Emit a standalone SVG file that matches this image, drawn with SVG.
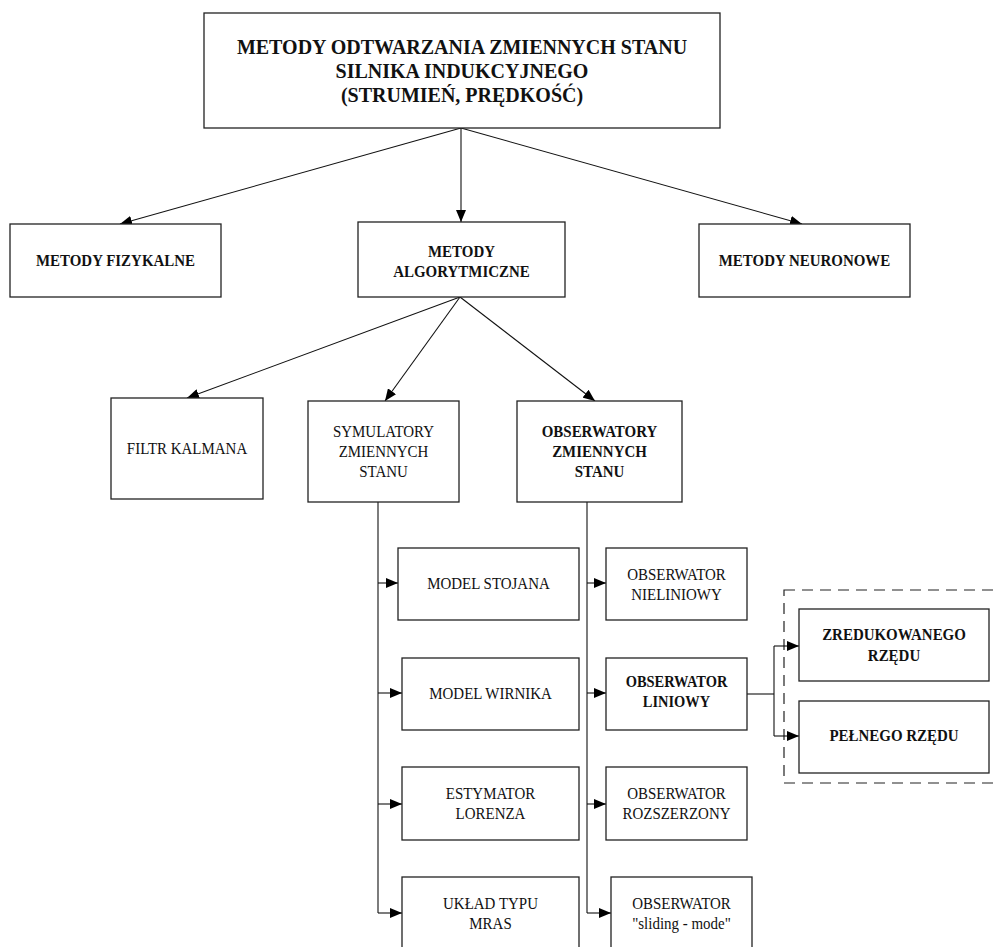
<svg xmlns="http://www.w3.org/2000/svg" width="996" height="947" viewBox="0 0 996 947">
<style>
.box{fill:#fff;stroke:#222;stroke-width:1.3}
.t{font-family:"Liberation Serif","Times New Roman",serif;font-size:17.6px;fill:#111;text-anchor:middle}
.b{font-weight:bold}
.title{font-family:"Liberation Serif","Times New Roman",serif;font-size:20px;font-weight:bold;fill:#111;text-anchor:middle}
.ln{fill:none;stroke:#111;stroke-width:1.1}
.dash{fill:none;stroke:#222;stroke-width:1.2;stroke-dasharray:11 7}
</style>
<defs>
<marker id="ah" viewBox="0 0 12 10" refX="12" refY="5" markerWidth="12" markerHeight="10" markerUnits="userSpaceOnUse" orient="auto">
<path d="M0,0 L12,5 L0,10 z" fill="#000"/>
</marker>
</defs>
<rect width="996" height="947" fill="#fff"/>

<g id="group-dashed">
<rect class="dash" x="784" y="590" width="260" height="193"/>
</g>

<g id="connectors">
<line class="ln" x1="461" y1="128" x2="120" y2="224" marker-end="url(#ah)"/>
<line class="ln" x1="461" y1="128" x2="461" y2="222" marker-end="url(#ah)"/>
<line class="ln" x1="461" y1="128" x2="802" y2="224" marker-end="url(#ah)"/>
<line class="ln" x1="460" y1="297" x2="187" y2="398" marker-end="url(#ah)"/>
<line class="ln" x1="460" y1="297" x2="385" y2="401" marker-end="url(#ah)"/>
<line class="ln" x1="460" y1="297" x2="595" y2="401" marker-end="url(#ah)"/>
<polyline class="ln" points="378,502 378,913"/>
<line class="ln" x1="378" y1="583" x2="398" y2="583" marker-end="url(#ah)"/>
<line class="ln" x1="378" y1="693" x2="402" y2="693" marker-end="url(#ah)"/>
<line class="ln" x1="378" y1="804" x2="402" y2="804" marker-end="url(#ah)"/>
<line class="ln" x1="378" y1="913" x2="402" y2="913" marker-end="url(#ah)"/>
<polyline class="ln" points="587,502 587,913"/>
<line class="ln" x1="587" y1="583" x2="606" y2="583" marker-end="url(#ah)"/>
<line class="ln" x1="587" y1="693" x2="606" y2="693" marker-end="url(#ah)"/>
<line class="ln" x1="587" y1="804" x2="606" y2="804" marker-end="url(#ah)"/>
<line class="ln" x1="587" y1="913" x2="611" y2="913" marker-end="url(#ah)"/>
<polyline class="ln" points="747,694 774,694"/>
<polyline class="ln" points="774,646 774,736"/>
<line class="ln" x1="774" y1="646" x2="799" y2="646" marker-end="url(#ah)"/>
<line class="ln" x1="774" y1="736" x2="799" y2="736" marker-end="url(#ah)"/>
</g>

<g id="n-root">
<rect class="box" x="204" y="13" width="516" height="115"/>
<text class="title" x="462" y="54">METODY ODTWARZANIA ZMIENNYCH STANU</text>
<text class="title" x="462" y="78">SILNIKA INDUKCYJNEGO</text>
<text class="title" x="462" y="102">(STRUMIEŃ, PRĘDKOŚĆ)</text>
</g>

<g id="n-fizykalne">
<rect class="box" x="10" y="224" width="211" height="73"/>
<g transform="translate(115.5,0) scale(0.85,1)"><text class="t b" x="0" y="266">METODY FIZYKALNE</text></g>
</g>

<g id="n-algorytmiczne">
<rect class="box" x="358" y="222" width="207" height="75"/>
<g transform="translate(461.5,0) scale(0.85,1)">
<text class="t b" x="0" y="257">METODY</text>
<text class="t b" x="0" y="277">ALGORYTMICZNE</text>
</g>
</g>

<g id="n-neuronowe">
<rect class="box" x="699" y="224" width="211" height="73"/>
<g transform="translate(804.5,0) scale(0.85,1)"><text class="t b" x="0" y="266">METODY NEURONOWE</text></g>
</g>

<g id="n-kalman">
<rect class="box" x="111" y="398" width="152" height="101"/>
<g transform="translate(187,0) scale(0.85,1)"><text class="t" x="0" y="454">FILTR KALMANA</text></g>
</g>

<g id="n-symulatory">
<rect class="box" x="308" y="401" width="151" height="101"/>
<g transform="translate(383.5,0) scale(0.85,1)">
<text class="t" x="0" y="437">SYMULATORY</text>
<text class="t" x="0" y="457">ZMIENNYCH</text>
<text class="t" x="0" y="477">STANU</text>
</g>
</g>

<g id="n-obserwatory">
<rect class="box" x="517" y="401" width="165" height="101"/>
<g transform="translate(599.5,0) scale(0.85,1)">
<text class="t b" x="0" y="437">OBSERWATORY</text>
<text class="t b" x="0" y="457">ZMIENNYCH</text>
<text class="t b" x="0" y="477">STANU</text>
</g>
</g>

<g id="n-stojana">
<rect class="box" x="398" y="548" width="181" height="72"/>
<g transform="translate(488.5,0) scale(0.85,1)"><text class="t" x="0" y="589">MODEL STOJANA</text></g>
</g>

<g id="n-wirnika">
<rect class="box" x="402" y="658" width="177" height="72"/>
<g transform="translate(490.5,0) scale(0.85,1)"><text class="t" x="0" y="699">MODEL WIRNIKA</text></g>
</g>

<g id="n-lorenza">
<rect class="box" x="402" y="767" width="177" height="73"/>
<g transform="translate(490.5,0) scale(0.85,1)">
<text class="t" x="0" y="799">ESTYMATOR</text>
<text class="t" x="0" y="819">LORENZA</text>
</g>
</g>

<g id="n-mras">
<rect class="box" x="402" y="877" width="177" height="100"/>
<g transform="translate(490.5,0) scale(0.85,1)">
<text class="t" x="0" y="909">UKŁAD TYPU</text>
<text class="t" x="0" y="929">MRAS</text>
</g>
</g>

<g id="n-nieliniowy">
<rect class="box" x="606" y="548" width="141" height="72"/>
<g transform="translate(676.5,0) scale(0.85,1)">
<text class="t" x="0" y="580">OBSERWATOR</text>
<text class="t" x="0" y="600">NIELINIOWY</text>
</g>
</g>

<g id="n-liniowy">
<rect class="box" x="606" y="658" width="141" height="72"/>
<g transform="translate(676.5,0) scale(0.85,1)">
<text class="t b" x="0" y="687" style="font-size:17px">OBSERWATOR</text>
<text class="t b" x="0" y="707" style="font-size:17px">LINIOWY</text>
</g>
</g>

<g id="n-rozszerzony">
<rect class="box" x="606" y="767" width="141" height="73"/>
<g transform="translate(676.5,0) scale(0.85,1)">
<text class="t" x="0" y="799">OBSERWATOR</text>
<text class="t" x="0" y="819">ROZSZERZONY</text>
</g>
</g>

<g id="n-sliding">
<rect class="box" x="611" y="877" width="141" height="100"/>
<g transform="translate(681.5,0) scale(0.85,1)">
<text class="t" x="0" y="909">OBSERWATOR</text>
<text class="t" x="0" y="929">"sliding - mode"</text>
</g>
</g>

<g id="n-zredukowanego">
<rect class="box" x="799" y="609" width="190" height="72"/>
<g transform="translate(894,0) scale(0.85,1)">
<text class="t b" x="0" y="640">ZREDUKOWANEGO</text>
<text class="t b" x="0" y="661">RZĘDU</text>
</g>
</g>

<g id="n-pelnego">
<rect class="box" x="799" y="701" width="190" height="72"/>
<g transform="translate(894,0) scale(0.85,1)"><text class="t b" x="0" y="741">PEŁNEGO RZĘDU</text></g>
</g>
</svg>
